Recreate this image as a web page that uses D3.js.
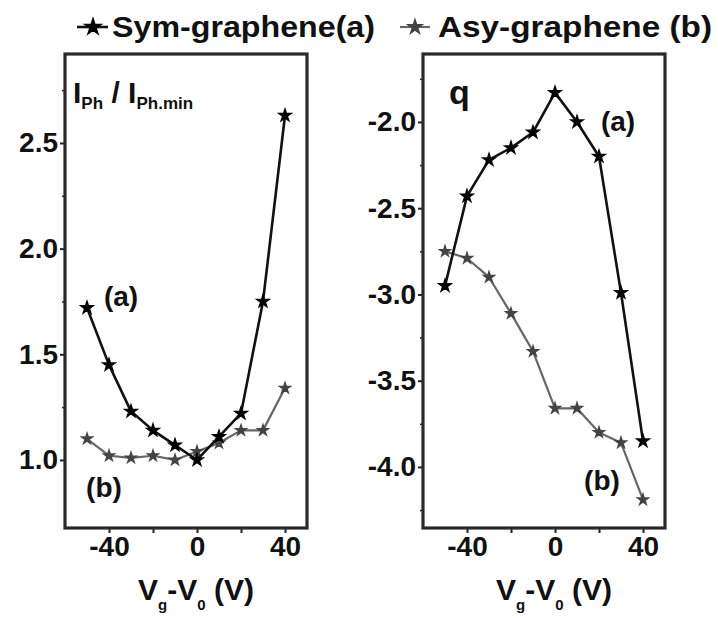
<!DOCTYPE html>
<html>
<head>
<meta charset="utf-8">
<script src="https://cdn.jsdelivr.net/npm/d3@7"></script>
<style>
  html, body { margin: 0; padding: 0; background: #fff; }
  svg { display: block; }
  text { font-family: "Liberation Sans", Arial, sans-serif; font-weight: bold; fill: #111; }
</style>
</head>
<body>
<svg id="chart" width="718" height="618"></svg>
<script>
// Gate-voltage offsets (V) shared by both panels
const gateVoltage = [-50, -40, -30, -20, -10, 0, 10, 20, 30, 40];

// Normalised photocurrent I_Ph / I_Ph.min
const ratioSym = [1.72, 1.45, 1.23, 1.14, 1.07, 1.0, 1.11, 1.22, 1.75, 2.63];
const ratioAsy = [1.10, 1.02, 1.01, 1.02, 1.00, 1.04, 1.08, 1.14, 1.14, 1.34];

// Exponent q
const qSym = [-2.95, -2.43, -2.22, -2.15, -2.06, -1.83, -2.00, -2.20, -2.99, -3.85];
const qAsy = [-2.75, -2.79, -2.90, -3.11, -3.33, -3.66, -3.66, -3.80, -3.86, -4.19];

// Axis ticks and labels
const xTicks = [-40, -20, 0, 20, 40];
const xTickLabels = [-40, 0, 40];
const ratioTicks = [1.0, 1.5, 2.0, 2.5];
const ratioMinorTicks = [1.25, 1.75, 2.25, 2.75];
const qTicks = [-4.0, -3.5, -3.0, -2.5, -2.0];
const qMinorTicks = [-4.25, -3.75, -3.25, -2.75, -2.25, -1.75];

const seriesNames = ["Sym-graphene(a)", "Asy-graphene (b)"];

const svg = d3.select("#chart");

const styleSym = { stroke: "#111", width: 2.6, fill: "#000", size: 45 };
const styleAsy = { stroke: "#666", width: 2.2, fill: "#444", size: 34 };

function drawPanel(opt) {
  const g = svg.append("g");
  const x = d3.scaleLinear().domain([-60, 50]).range([opt.left, opt.right]);
  const y = d3.scaleLinear().domain(opt.yDomain).range([opt.bottom, opt.top]);

  // x axis (bottom edge of the frame)
  const xAxis = d3.axisBottom(x).tickValues(xTicks).tickSize(5).tickPadding(3)
    .tickFormat(d => xTickLabels.includes(d) ? d3.format("d")(d).replace("−", "-") : "");
  const gx = g.append("g").attr("transform", `translate(0,${opt.bottom})`).call(xAxis);
  gx.select(".domain").remove();
  gx.selectAll(".tick line").attr("stroke", "#222").attr("stroke-width", 2);
  gx.selectAll(".tick text").attr("font-size", 28).attr("dy", "0.72em").attr("fill", "#111");

  // y axis (left edge of the frame)
  const yAxis = d3.axisLeft(y).tickValues(opt.yTicks).tickSize(5).tickPadding(2)
    .tickFormat(d => d3.format(".1f")(d).replace("−", "-"));
  const gy = g.append("g").attr("transform", `translate(${opt.left},0)`).call(yAxis);
  gy.select(".domain").remove();
  gy.selectAll(".tick line").attr("stroke", "#222").attr("stroke-width", 2);
  gy.selectAll(".tick text").attr("font-size", 28).attr("fill", "#111");

  const gm = g.append("g").attr("transform", `translate(${opt.left},0)`)
    .call(d3.axisLeft(y).tickValues(opt.yMinor).tickSize(3).tickFormat(""));
  gm.select(".domain").remove();
  gm.selectAll(".tick line").attr("stroke", "#222").attr("stroke-width", 1.5);

  // frame
  g.append("rect")
    .attr("x", opt.left).attr("y", opt.top)
    .attr("width", opt.right - opt.left).attr("height", opt.bottom - opt.top)
    .attr("fill", "none").attr("stroke", "#2a2a2a").attr("stroke-width", 3.2);

  const line = d3.line().x((d, i) => x(gateVoltage[i])).y(d => y(d));
  const star = d3.symbol().type(d3.symbolStar);

  [[opt.asy, styleAsy], [opt.sym, styleSym]].forEach(([vals, st]) => {
    g.append("path").datum(vals).attr("d", line)
      .attr("fill", "none").attr("stroke", st.stroke).attr("stroke-width", st.width)
      .attr("stroke-linejoin", "round");
    g.selectAll(null).data(vals).enter().append("path")
      .attr("transform", (d, i) => `translate(${x(gateVoltage[i])},${y(d)})`)
      .attr("d", star.size(st.size)())
      .attr("fill", st.fill).attr("stroke", st.fill).attr("stroke-width", 1.5);
  });

  opt.notes.forEach(n => {
    g.append("text").attr("x", n.x).attr("y", n.y).attr("text-anchor", "middle")
      .attr("font-size", 28).text(n.t);
  });
  return g;
}

const left = drawPanel({
  left: 65, right: 307, top: 54, bottom: 528,
  yDomain: [0.678, 2.921],
  yTicks: ratioTicks, yMinor: ratioMinorTicks,
  sym: ratioSym, asy: ratioAsy,
  notes: [{ t: "(a)", x: 121, y: 306 }, { t: "(b)", x: 104, y: 497 }]
});

const right = drawPanel({
  left: 423, right: 665, top: 54, bottom: 528,
  yDomain: [-4.354, -1.606],
  yTicks: qTicks, yMinor: qMinorTicks,
  sym: qSym, asy: qAsy,
  notes: [{ t: "(a)", x: 618, y: 131 }, { t: "(b)", x: 602, y: 490 }]
});

// panel titles
const t1 = left.append("text").attr("x", 73).attr("y", 103).attr("font-size", 30);
t1.append("tspan").text("I");
t1.append("tspan").attr("font-size", 17).attr("dy", 6).text("Ph");
t1.append("tspan").attr("dy", -6).text(" / ");
t1.append("tspan").text("I");
t1.append("tspan").attr("font-size", 17).attr("dy", 6).text("Ph.min");

right.append("text").attr("x", 449).attr("y", 104).attr("font-size", 34).text("q");

// x-axis titles
[[196], [554]].forEach(([cx]) => {
  const t = svg.append("text").attr("x", cx).attr("y", 600)
    .attr("text-anchor", "middle").attr("font-size", 30);
  t.append("tspan").text("V");
  t.append("tspan").attr("font-size", 15).attr("dy", 10).text("g");
  t.append("tspan").attr("dy", -10).text("-V");
  t.append("tspan").attr("font-size", 15).attr("dy", 10).text("0");
  t.append("tspan").attr("dy", -10).text(" (V)");
});

// legend
const lg = svg.append("g");
const starL = d3.symbol().type(d3.symbolStar);
lg.append("line").attr("x1", 77).attr("x2", 108).attr("y1", 27).attr("y2", 27)
  .attr("stroke", styleSym.stroke).attr("stroke-width", styleSym.width);
lg.append("path").attr("transform", "translate(93,27)").attr("d", starL.size(80)())
  .attr("fill", styleSym.fill).attr("stroke", styleSym.fill).attr("stroke-width", 1.5);
lg.append("text").attr("x", 112).attr("y", 37).attr("font-size", 29)
  .attr("textLength", 263).attr("lengthAdjust", "spacingAndGlyphs").text(seriesNames[0]);
lg.append("line").attr("x1", 400).attr("x2", 430).attr("y1", 27).attr("y2", 27)
  .attr("stroke", styleAsy.stroke).attr("stroke-width", styleAsy.width);
lg.append("path").attr("transform", "translate(415,27)").attr("d", starL.size(60)())
  .attr("fill", styleAsy.fill).attr("stroke", styleAsy.fill).attr("stroke-width", 1.5);
lg.append("text").attr("x", 438).attr("y", 37).attr("font-size", 29)
  .attr("textLength", 274).attr("lengthAdjust", "spacingAndGlyphs").text(seriesNames[1]);
</script>
</body>
</html>
